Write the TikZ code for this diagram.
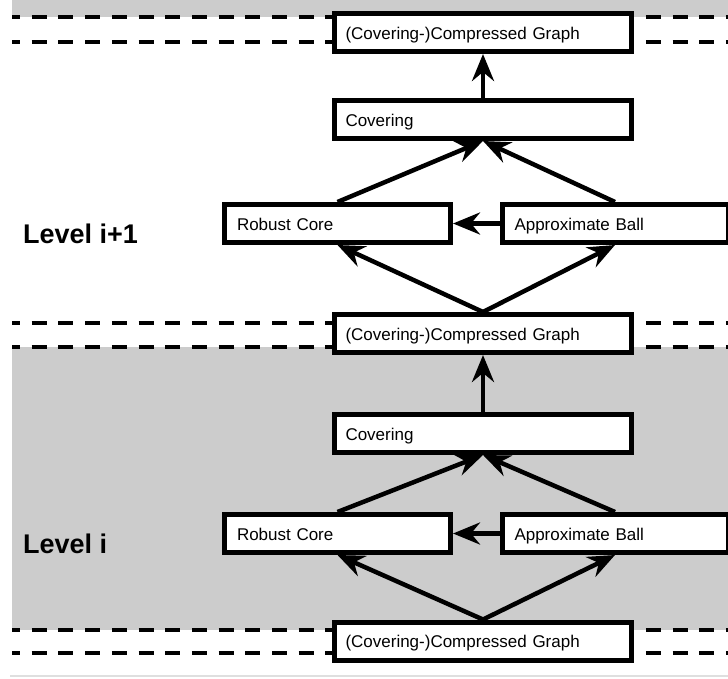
\documentclass[tikz,border=0pt]{standalone}
\usepackage{fontspec}
\setmainfont{Liberation Sans}
\usetikzlibrary{arrows.meta}

\begin{document}
\begin{tikzpicture}[x=1pt,y=-1pt,
  box/.style={draw,line width=5pt,fill=white,rectangle,minimum height=38pt,inner ysep=0pt,text height=13pt,text depth=0pt,align=left,font=\fontsize{17}{19}\selectfont},
  graphbox/.style={box,inner xsep=11pt,text width=275pt},
  sidebox/.style={box,inner xsep=12.5pt,text width=201pt},
  conn/.style={line width=4.5pt,-{Stealth[length=27pt,width=22pt,inset=9pt]}},
  sep/.style={line width=4pt,dash pattern=on 15pt off 11.7pt,dash phase=7pt},
  lvl/.style={inner sep=0pt,font=\bfseries\fontsize{27}{30}\selectfont}]
\useasboundingbox (0,0) rectangle (728,678);

\fill[gray!40] (12,0) rectangle (728,17);
\fill[gray!40] (12,347) rectangle (728,630);
\draw[gray!25,line width=1.5pt] (10,676)--(728,676);

\draw[sep] (12,17)--(728,17);
\draw[sep] (12,42)--(728,42);
\draw[sep] (12,323)--(728,323);
\draw[sep] (12,347)--(728,347);
\draw[sep] (12,630)--(728,630);
\draw[sep] (12,653)--(728,653);

\node[graphbox] (cg3) at (483,32.5) {(Covering-)Compressed Graph};
\node[graphbox] (cov2) at (483,119.5) {Covering};
\node[sidebox] (rc2) at (337.5,223.5) {Robust Core};
\node[sidebox] (ab2) at (615,223.5) {Approximate Ball};
\node[graphbox] (cg2) at (483,333.5) {(Covering-)Compressed Graph};
\node[graphbox] (cov1) at (483,433.5) {Covering};
\node[sidebox] (rc1) at (337.5,533.5) {Robust Core};
\node[sidebox] (ab1) at (615,533.5) {Approximate Ball};
\node[graphbox] (cg1) at (483,641) {(Covering-)Compressed Graph};

\node[lvl,anchor=base west] (lvl2) at (23,243) {Level i+1};
\node[lvl,anchor=base west] (lvl1) at (23,553) {Level i};

\draw[conn] (cov2.north)--(cg3.south);
\draw[conn] (rc2.north)--(cov2.south);
\draw[conn] (ab2.north)--(cov2.south);
\draw[conn] (ab2.west)--(rc2.east);
\draw[conn] (cg2.north)--(rc2.south);
\draw[conn] (cg2.north)--(ab2.south);

\draw[conn] (cov1.north)--(cg2.south);
\draw[conn] (rc1.north)--(cov1.south);
\draw[conn] (ab1.north)--(cov1.south);
\draw[conn] (ab1.west)--(rc1.east);
\draw[conn] (cg1.north)--(rc1.south);
\draw[conn] (cg1.north)--(ab1.south);

\end{tikzpicture}
\end{document}
